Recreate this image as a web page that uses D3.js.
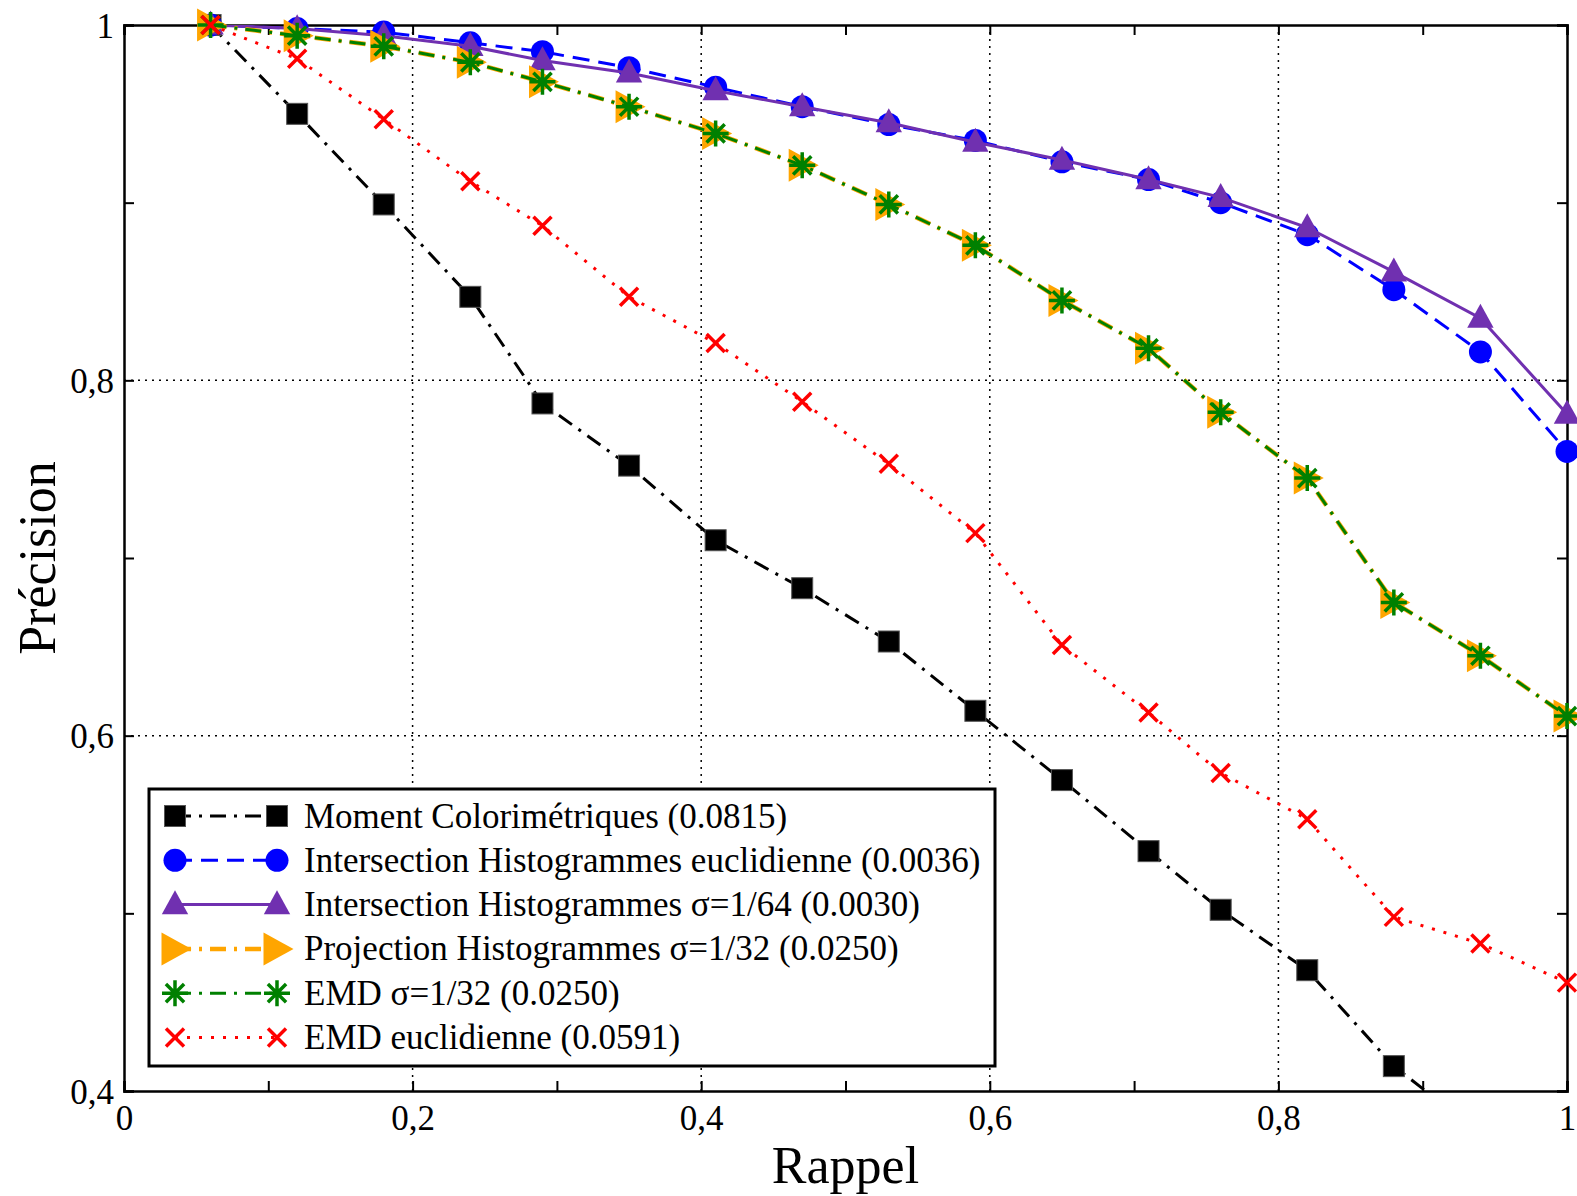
<!DOCTYPE html>
<html>
<head>
<meta charset="utf-8">
<script src="https://cdn.jsdelivr.net/npm/d3@7"></script>
<style>
  body { margin: 0; background: #fff; }
  svg { font-family: "Liberation Serif", "Times New Roman", serif; }
</style>
</head>
<body>
<div id="chart"></div>
<script>
// recall values along the x axis
var rappel = [0.06, 0.12, 0.18, 0.24, 0.29, 0.35, 0.41, 0.47, 0.53, 0.59, 0.65, 0.71, 0.76, 0.82, 0.88, 0.94, 1.0];

// precision for each method
var moment     = [1.0, 0.950, 0.899, 0.847, 0.787, 0.752, 0.710, 0.683, 0.653, 0.614, 0.575, 0.535, 0.502, 0.468, 0.414, 0.376, 0.34];
var interEucl  = [1.0, 0.998, 0.996, 0.990, 0.985, 0.976, 0.965, 0.954, 0.944, 0.935, 0.923, 0.913, 0.900, 0.882, 0.851, 0.816, 0.760];
var inter64    = [1.0, 0.998, 0.994, 0.988, 0.980, 0.973, 0.963, 0.954, 0.945, 0.934, 0.924, 0.913, 0.903, 0.886, 0.861, 0.835, 0.781];
var proj32     = [1.0, 0.994, 0.988, 0.979, 0.968, 0.954, 0.939, 0.921, 0.899, 0.876, 0.845, 0.818, 0.782, 0.745, 0.675, 0.645, 0.611];
var emd32      = [1.0, 0.994, 0.988, 0.979, 0.968, 0.954, 0.939, 0.921, 0.899, 0.876, 0.845, 0.818, 0.782, 0.745, 0.675, 0.645, 0.611];
var emdEucl    = [1.0, 0.981, 0.947, 0.912, 0.887, 0.847, 0.821, 0.788, 0.753, 0.714, 0.651, 0.613, 0.579, 0.553, 0.498, 0.483, 0.461];

var names = [
  "Moment Colorimétriques (0.0815)",
  "Intersection Histogrammes euclidienne (0.0036)",
  "Intersection Histogrammes σ=1/64 (0.0030)",
  "Projection Histogrammes σ=1/32 (0.0250)",
  "EMD σ=1/32 (0.0250)",
  "EMD euclidienne (0.0591)"
];

var xTicks = [0, 0.2, 0.4, 0.6, 0.8, 1];
var xMinor = [0.1, 0.3, 0.5, 0.7, 0.9];
var yTicks = [0.4, 0.6, 0.8, 1];
var yMinor = [0.5, 0.7, 0.9];

var width = 1577, height = 1196;
var margin = {left: 124, right: 10, top: 25, bottom: 105};

var x = d3.scaleLinear().domain([0, 1]).range([margin.left, width - margin.right]);
var y = d3.scaleLinear().domain([0.4, 1]).range([height - margin.bottom, margin.top]);

var svg = d3.select("#chart").append("svg")
    .attr("width", width)
    .attr("height", height);

svg.append("defs").append("clipPath").attr("id", "plotclip")
  .append("rect")
    .attr("x", x(0)).attr("y", y(1))
    .attr("width", x(1) - x(0)).attr("height", y(0.4) - y(1));

// dotted grid at the major ticks
var grid = svg.append("g");
grid.selectAll(".gx").data(xTicks.slice(1, -1)).enter().append("line")
    .attr("x1", function(d) { return x(d); }).attr("x2", function(d) { return x(d); })
    .attr("y1", y(0.4)).attr("y2", y(1))
    .attr("stroke", "#000").attr("stroke-width", 1.5).attr("stroke-dasharray", "2,5");
grid.selectAll(".gy").data(yTicks.slice(1, -1)).enter().append("line")
    .attr("y1", function(d) { return y(d); }).attr("y2", function(d) { return y(d); })
    .attr("x1", x(0)).attr("x2", x(1))
    .attr("stroke", "#000").attr("stroke-width", 1.5).attr("stroke-dasharray", "2,5");

function fmt(d) {
  if (d === 0 || d === 1) return String(d);
  return d3.format(".1f")(d).replace(".", ",");
}

// axes, ticks pointing inwards
var tick = 10;
var axB = svg.append("g").attr("transform", "translate(0," + y(0.4) + ")")
    .call(d3.axisBottom(x).tickValues(xTicks.concat(xMinor)).tickSize(-tick).tickPadding(14)
      .tickFormat(function(d) { return xTicks.indexOf(d) >= 0 ? fmt(d) : ""; }));
var axT = svg.append("g").attr("transform", "translate(0," + y(1) + ")")
    .call(d3.axisTop(x).tickValues(xTicks.concat(xMinor)).tickSize(-tick).tickFormat(""));
var axL = svg.append("g").attr("transform", "translate(" + x(0) + ",0)")
    .call(d3.axisLeft(y).tickValues(yTicks.concat(yMinor)).tickSize(-tick).tickPadding(10)
      .tickFormat(function(d) { return yTicks.indexOf(d) >= 0 ? fmt(d) : ""; }));
var axR = svg.append("g").attr("transform", "translate(" + x(1) + ",0)")
    .call(d3.axisRight(y).tickValues(yTicks.concat(yMinor)).tickSize(-tick).tickFormat(""));

[axB, axT, axL, axR].forEach(function(a) {
  a.attr("font-family", null);
  a.select(".domain").attr("stroke", "#000").attr("stroke-width", 2.5);
  a.selectAll(".tick line").attr("stroke", "#000").attr("stroke-width", 2);
  a.selectAll("text").attr("font-family", "Liberation Serif").attr("font-size", 35).attr("fill", "#000");
});
axL.selectAll("text").attr("dy", "0.35em");

// axis titles
svg.append("text")
    .attr("x", (x(0) + x(1)) / 2).attr("y", 1183)
    .attr("text-anchor", "middle").attr("font-size", 52)
    .text("Rappel");
svg.append("text")
    .attr("transform", "translate(55," + 558 + ") rotate(-90)")
    .attr("text-anchor", "middle").attr("font-size", 52)
    .text("Précision");

// marker drawing
function marker(g, type, color, s) {
  if (type === "square") {
    g.append("rect").attr("x", -s / 2).attr("y", -s / 2).attr("width", s).attr("height", s)
      .attr("fill", color).attr("stroke", "#555").attr("stroke-width", 1);
  } else if (type === "circle") {
    g.append("circle").attr("r", s / 2).attr("fill", color);
  } else if (type === "triangle") {
    g.append("path").attr("d", "M0," + (-s * 0.6) + "L" + (s * 0.55) + "," + (s * 0.4) + "L" + (-s * 0.55) + "," + (s * 0.4) + "Z")
      .attr("fill", color);
  } else if (type === "right") {
    g.append("path").attr("d", "M" + (s * 0.55) + ",0L" + (-s * 0.45) + "," + (-s * 0.55) + "L" + (-s * 0.45) + "," + (s * 0.55) + "Z")
      .attr("fill", color);
  } else if (type === "star") {
    var r = s / 2, q = r * 0.7;
    g.append("path")
      .attr("d", "M" + (-r) + ",0H" + r + "M0," + (-r) + "V" + r +
                 "M" + (-q) + "," + (-q) + "L" + q + "," + q + "M" + (-q) + "," + q + "L" + q + "," + (-q))
      .attr("stroke", color).attr("stroke-width", 3.5).attr("fill", "none");
  } else if (type === "cross") {
    var h = s / 2;
    g.append("path").attr("d", "M" + (-h) + "," + (-h) + "L" + h + "," + h + "M" + (-h) + "," + h + "L" + h + "," + (-h))
      .attr("stroke", color).attr("stroke-width", 3.5).attr("fill", "none");
  }
}

var series = [
  {values: moment,    color: "#000000", dash: "16,8,3,8", lw: 3,   mk: "square",   ms: 21},
  {values: interEucl, color: "#0000ff", dash: "17,9",     lw: 3,   mk: "circle",   ms: 23},
  {values: inter64,   color: "#7030b0", dash: null,       lw: 3,   mk: "triangle", ms: 24},
  {values: proj32,    color: "#ffa500", dash: "16,8,3,8", lw: 4.5, mk: "right",    ms: 30},
  {values: emd32,     color: "#008000", dash: "16,8,3,8", lw: 3,   mk: "star",     ms: 26},
  {values: emdEucl,   color: "#ff0000", dash: "3,9",      lw: 3,   mk: "cross",    ms: 18}
];

var line = d3.line()
    .x(function(d) { return x(d[0]); })
    .y(function(d) { return y(d[1]); });

series.forEach(function(s) {
  var pts = rappel.map(function(r, i) { return [r, s.values[i]]; });
  svg.append("path")
      .datum(pts)
      .attr("clip-path", "url(#plotclip)")
      .attr("d", line)
      .attr("fill", "none")
      .attr("stroke", s.color)
      .attr("stroke-width", s.lw)
      .attr("stroke-dasharray", s.dash);
  svg.append("g").selectAll("g")
      .data(pts.filter(function(p) { return p[1] >= 0.4; }))
    .enter().append("g")
      .attr("transform", function(d) { return "translate(" + x(d[0]) + "," + y(d[1]) + ")"; })
      .each(function() { marker(d3.select(this), s.mk, s.color, s.ms); });
});

// legend
var lg = svg.append("g");
lg.append("rect")
    .attr("x", 149).attr("y", 789).attr("width", 846).attr("height", 277)
    .attr("fill", "#fff").attr("stroke", "#000").attr("stroke-width", 3);

series.forEach(function(s, i) {
  var cy = 816 + i * 44.3;
  lg.append("line")
      .attr("x1", 175).attr("x2", 277).attr("y1", cy).attr("y2", cy)
      .attr("stroke", s.color).attr("stroke-width", s.lw).attr("stroke-dasharray", s.dash);
  [175, 277].forEach(function(px) {
    var g = lg.append("g").attr("transform", "translate(" + px + "," + cy + ")");
    marker(g, s.mk, s.color, s.ms);
  });
  lg.append("text")
      .attr("x", 304).attr("y", cy).attr("dy", "0.33em")
      .attr("font-size", 35)
      .text(names[i]);
});
</script>
</body>
</html>
